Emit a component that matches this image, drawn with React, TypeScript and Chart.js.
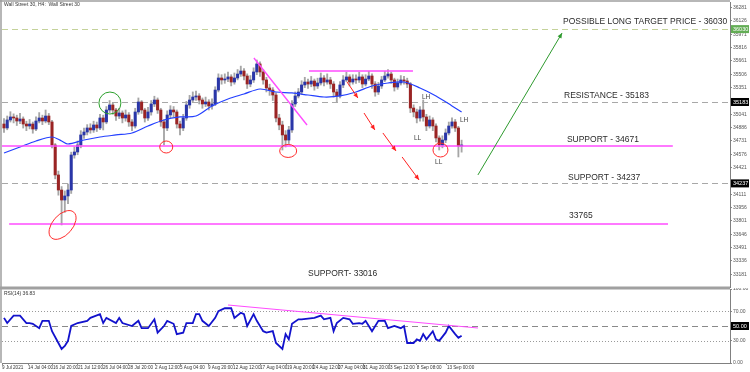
import React, { useEffect, useRef } from "react";
import { Chart, registerables } from "chart.js";
Chart.register(...registerables);

// ---------- data ----------
const FIRST_OPEN = 34927;
const closes = [
  34881, 34974, 35009, 34997, 34962, 34985, 34927, 34904, 34927, 34869,
  34962, 34997, 34962, 35020, 34951, 34683, 34335, 34160, 34044, 34091,
  34160, 34567, 34602, 34683, 34800, 34834, 34881, 34858, 34916, 34881,
  34997, 34951, 35090, 35148, 35090, 35020, 35055, 34997, 35032, 34951,
  34904, 35067, 35183, 35090, 34997, 35067, 35160, 35206, 35090, 34951,
  34881, 35032, 35090, 35067, 34927, 34881, 34997, 35148, 35206, 35241,
  35253, 35206, 35160, 35183, 35137, 35160, 35322, 35462, 35439, 35450,
  35474, 35415, 35462, 35508, 35543, 35485, 35392, 35439, 35532, 35625,
  35532, 35439, 35346, 35322, 35264, 34997, 34916, 34800, 34741, 34858,
  35160, 35253, 35299, 35381, 35415, 35392, 35427, 35369, 35404, 35462,
  35415, 35439, 35392, 35299, 35253, 35381, 35439, 35474, 35415, 35450,
  35439, 35474, 35392, 35450, 35485, 35392, 35299, 35369, 35439, 35485,
  35508, 35439, 35357, 35404, 35439, 35427, 35392, 35113, 35067, 34997,
  35090, 35009, 34904, 34974, 34904, 34765, 34683, 34741, 34823, 34904,
  34951, 34881, 34672, 34683,
];
const highs = [
  34990, 35020, 35070, 35045, 35030, 35050, 35010, 34960, 34980, 34950,
  35010, 35060, 35030, 35090, 35050, 34970, 34700, 34380, 34200, 34150,
  34230, 34600, 34660, 34730, 34850, 34880, 34920, 34930, 34960, 34950,
  35040, 35030, 35130, 35200, 35170, 35110, 35110, 35080, 35090, 35060,
  34980, 35110, 35230, 35200, 35110, 35120, 35200, 35250, 35230, 35110,
  34980, 35080, 35140, 35130, 35090, 34960, 35040, 35190, 35260, 35300,
  35310, 35280, 35230, 35240, 35210, 35220, 35360, 35510, 35500, 35510,
  35530, 35500, 35520, 35560, 35600, 35570, 35510, 35490, 35580, 35671,
  35650, 35560, 35470, 35390, 35350, 35290, 35040, 34960, 34850, 34900,
  35200, 35300, 35340, 35430, 35470, 35450, 35480, 35450, 35460, 35520,
  35490, 35510, 35470, 35420, 35330, 35420, 35490, 35530, 35500, 35500,
  35500, 35530, 35500, 35500, 35540, 35510, 35420, 35410, 35480, 35540,
  35560, 35530, 35460, 35450, 35490, 35480, 35460, 35410, 35150, 35100,
  35130, 35206, 35040, 35020, 35000, 34930, 34790, 34790, 34870, 34950,
  35000, 34980, 34900, 34740,
];
const lows = [
  34830, 34860, 34950, 34940, 34910, 34930, 34880, 34850, 34870, 34820,
  34850, 34940, 34920, 34940, 34920, 34650, 34290, 34100, 33754, 33900,
  34000, 34120, 34530, 34570, 34650, 34760, 34800, 34820, 34830, 34840,
  34860, 34858, 34930, 35060, 35040, 34970, 34990, 34940, 34960, 34900,
  34850, 34880, 35040, 35050, 34950, 34970, 35030, 35130, 35050, 34900,
  34683, 34850, 35000, 35010, 34880, 34800, 34850, 34970, 35110, 35180,
  35200, 35160, 35110, 35130, 35090, 35100, 35140, 35300, 35390, 35400,
  35420, 35370, 35390, 35440, 35480, 35440, 35340, 35360, 35410, 35500,
  35480, 35390, 35300, 35260, 35200, 34950, 34860, 34625, 34660, 34700,
  34830, 35130, 35230, 35270, 35350, 35340, 35360, 35320, 35340, 35380,
  35370, 35390, 35340, 35240, 35183, 35230, 35350, 35420, 35370, 35390,
  35400, 35410, 35350, 35370, 35430, 35340, 35250, 35270, 35340, 35420,
  35460, 35400, 35310, 35330, 35380, 35390, 35350, 35060, 35010, 34940,
  34960, 34960, 34850, 34880, 34850, 34720, 34625, 34650, 34710, 34800,
  34880, 34840, 34544, 34600,
];
const maIdx = [0, 5, 10, 15, 18, 20, 25, 30, 35, 40, 45, 50, 55, 60, 65, 70, 75, 80, 85, 90, 95, 100, 105, 110, 115, 120, 125, 130, 135, 140, 143];
const maVal = [34590, 34660, 34730, 34776, 34730, 34695, 34741, 34776, 34800, 34823, 34904, 34974, 35009, 35020, 35137, 35218, 35276, 35334, 35299, 35288, 35264, 35241, 35253, 35299, 35369, 35404, 35415, 35346, 35253, 35137, 35067];

const rsiIdx = [0, 1, 3, 5, 7, 8, 9, 11, 12, 14, 15, 17, 18, 19, 20, 21, 23, 26, 27, 30, 31, 32, 35, 36, 37, 40, 42, 43, 45, 47, 48, 50, 51, 53, 54, 56, 57, 59, 60, 61, 62, 64, 66, 67, 69, 71, 72, 74, 75, 76, 78, 79, 81, 82, 84, 85, 87, 88, 89, 90, 92, 93, 97, 99, 100, 102, 103, 104, 106, 108, 109, 111, 112, 113, 114, 115, 117, 119, 120, 122, 124, 125, 126, 128, 129, 130, 131, 132, 134, 135, 136, 138, 139, 141, 142, 143];
const rsiVal = [61, 54, 64, 64, 54, 54, 53, 47, 57, 57, 43, 27, 19, 23, 30, 50, 54, 57, 61, 66, 54, 61, 54, 61, 54, 50, 57, 47, 47, 59, 41, 50, 57, 53, 39, 41, 54, 54, 66, 66, 57, 50, 61, 70, 74, 74, 61, 68, 66, 50, 66, 57, 43, 41, 43, 27, 19, 39, 32, 53, 59, 59, 61, 64, 59, 61, 43, 54, 61, 59, 53, 54, 53, 57, 50, 43, 57, 57, 47, 50, 47, 50, 27, 27, 32, 30, 39, 32, 43, 32, 30, 41, 50, 39, 34, 36.83];

const priceTicks = [36281, 36126, 35971, 35816, 35661, 35506, 35351, 35041, 34886, 34731, 34576, 34421, 34111, 33956, 33801, 33646, 33491, 33336, 33181];
const rsiTicks = [100, 70, 30, 0];
const xTickIdx = [-0.6, 7.5, 15.3, 23.1, 30.9, 38.75, 47.2, 55, 63.75, 71.6, 80, 88.4, 96.6, 104.4, 112.2, 120.6, 129, 138.4];
const xTickLabels = ["9 Jul 2021", "14 Jul 04:00", "16 Jul 20:00", "21 Jul 12:00", "26 Jul 04:00", "28 Jul 20:00", "2 Aug 12:00", "5 Aug 04:00", "9 Aug 20:00", "12 Aug 12:00", "17 Aug 04:00", "19 Aug 20:00", "24 Aug 12:00", "27 Aug 04:00", "31 Aug 20:00", "3 Sep 12:00", "8 Sep 08:00", "13 Sep 00:00"];

const TARGET = 36030;
const RESISTANCE = 35183;
const SUPPORT_1 = 34671;
const SUPPORT_2 = 34237;
const LEVEL_33765 = 33765;
const RSI_NOW = 36.83;

// ---------- annotation geometry (data coordinates) ----------
const magentaSegs = [
  [-0.7, SUPPORT_1, 209, SUPPORT_1],
  [1.6, LEVEL_33765, 207.5, LEVEL_33765],
  [95.3, 35543, 127.8, 35543],
  [78.1, 35694, 94.7, 34916],
];
const redArrows = [
  [107.2, 35415, 110.6, 35229],
  [112.5, 35055, 115.9, 34858],
  [118.4, 34823, 122.5, 34614],
  [124.4, 34544, 129.7, 34277],
];
const greenArrow = [148.1, 34335, 174.4, 35985];
const ellipses = [
  { i: 33.1, p: 35171, rx: 11, ry: 11, rot: 0, c: "#2ca02c" },
  { i: 18.3, p: 33754, rx: 17, ry: 10, rot: -0.85, c: "#ff2b2b" },
  { i: 50.7, p: 34660, rx: 6.5, ry: 6, rot: 0, c: "#ff2b2b" },
  { i: 88.8, p: 34614, rx: 8.5, ry: 6.5, rot: 0, c: "#ff2b2b" },
  { i: 136.4, p: 34625, rx: 7.5, ry: 7, rot: 0, c: "#ff2b2b" },
];
const bigTexts = [
  { t: "POSSIBLE LONG TARGET PRICE - 36030", i: 174.7, p: 36113 },
  { t: "RESISTANCE - 35183", i: 175.0, p: 35253 },
  { t: "SUPPORT - 34671", i: 175.9, p: 34741 },
  { t: "SUPPORT - 34237", i: 176.25, p: 34306 },
  { t: "33765", i: 176.6, p: 33858 },
  { t: "SUPPORT- 33016", i: 95.0, p: 33190 },
];
const smallTexts = [
  { t: "LH", i: 130.6, p: 35241 },
  { t: "LH", i: 142.5, p: 34974 },
  { t: "LL", i: 128.1, p: 34765 },
  { t: "LL", i: 134.7, p: 34486 },
];

const X_MIN = -0.625;
const X_MAX = 226.875;
const P_MIN = 33033;
const P_MAX = 36345;
const UP = "#2a36a8";
const DOWN = "#9a2424";
const FONT = "'Liberation Sans', Arial, sans-serif";

function drawArrow(ctx: CanvasRenderingContext2D, x1: number, y1: number, x2: number, y2: number, color: string) {
  ctx.strokeStyle = color;
  ctx.fillStyle = color;
  ctx.lineWidth = 1;
  ctx.setLineDash([]);
  ctx.beginPath();
  ctx.moveTo(x1, y1);
  ctx.lineTo(x2, y2);
  ctx.stroke();
  const a = Math.atan2(y2 - y1, x2 - x1);
  const L = 5, W = 2.2;
  ctx.beginPath();
  ctx.moveTo(x2, y2);
  ctx.lineTo(x2 - L * Math.cos(a) + W * Math.sin(a), y2 - L * Math.sin(a) - W * Math.cos(a));
  ctx.lineTo(x2 - L * Math.cos(a) - W * Math.sin(a), y2 - L * Math.sin(a) + W * Math.cos(a));
  ctx.closePath();
  ctx.fill();
}

function axisBox(ctx: CanvasRenderingContext2D, x: number, y: number, text: string, bg: string, fg: string) {
  ctx.fillStyle = bg;
  ctx.fillRect(x, y - 4, 18, 8);
  ctx.fillStyle = fg;
  ctx.font = `5.5px ${FONT}`;
  ctx.textAlign = "left";
  ctx.textBaseline = "middle";
  ctx.fillText(text, x + 2, y + 0.5);
}

const mainPlugin = {
  id: "mainAnnot",
  beforeDatasetsDraw(chart: any) {
    const { ctx, chartArea: a, scales } = chart;
    const Y = (p: number) => scales.y.getPixelForValue(p);
    ctx.save();
    ctx.lineWidth = 1.2;
    ctx.setLineDash([6, 4]);
    const lv: [number, string][] = [[TARGET, "#c4d29a"], [RESISTANCE, "#a8a8a8"], [SUPPORT_2, "#a8a8a8"]];
    for (const [p, c] of lv) {
      ctx.strokeStyle = c;
      ctx.beginPath();
      ctx.moveTo(a.left, Math.round(Y(p)) + 0.5);
      ctx.lineTo(a.right, Math.round(Y(p)) + 0.5);
      ctx.stroke();
    }
    ctx.restore();
  },
  afterDatasetsDraw(chart: any) {
    const { ctx, chartArea: a, scales } = chart;
    const X = (i: number) => scales.x.getPixelForValue(i);
    const Y = (p: number) => scales.y.getPixelForValue(p);
    ctx.save();
    ctx.beginPath();
    ctx.rect(a.left, a.top, a.right - a.left, a.bottom - a.top);
    ctx.clip();
    ctx.setLineDash([]);
    ctx.strokeStyle = "#ff4cff";
    ctx.lineWidth = 1.4;
    for (const s of magentaSegs) {
      ctx.beginPath();
      ctx.moveTo(X(s[0]), Y(s[1]));
      ctx.lineTo(X(s[2]), Y(s[3]));
      ctx.stroke();
    }
    for (const r of redArrows) drawArrow(ctx, X(r[0]), Y(r[1]), X(r[2]), Y(r[3]), "#ff2020");
    drawArrow(ctx, X(greenArrow[0]), Y(greenArrow[1]), X(greenArrow[2]), Y(greenArrow[3]), "#2e9a2e");
    ctx.lineWidth = 1;
    for (const e of ellipses) {
      ctx.strokeStyle = e.c;
      ctx.beginPath();
      ctx.ellipse(X(e.i), Y(e.p), e.rx, e.ry, e.rot, 0, Math.PI * 2);
      ctx.stroke();
    }
    ctx.fillStyle = "#2b2b2b";
    ctx.textAlign = "left";
    ctx.textBaseline = "middle";
    ctx.font = `8.5px ${FONT}`;
    for (const t of bigTexts) ctx.fillText(t.t, X(t.i), Y(t.p));
    ctx.fillStyle = "#444";
    ctx.font = `6.5px ${FONT}`;
    for (const t of smallTexts) ctx.fillText(t.t, X(t.i), Y(t.p));
    ctx.fillStyle = "#333";
    ctx.font = `5px ${FONT}`;
    ctx.fillText("Wall Street 30, H4:  Wall Street 30", a.left + 2, a.top + 3);
    ctx.restore();
  },
  afterDraw(chart: any) {
    const { ctx, chartArea: a, scales } = chart;
    const Y = (p: number) => scales.y.getPixelForValue(p);
    ctx.save();
    ctx.strokeStyle = "#a0a0a0";
    ctx.lineWidth = 1.5;
    ctx.beginPath();
    ctx.moveTo(1, 0);
    ctx.lineTo(1, chart.height);
    ctx.moveTo(0, 1);
    ctx.lineTo(a.right, 1);
    ctx.moveTo(0, chart.height - 0.75);
    ctx.lineTo(a.right, chart.height - 0.75);
    ctx.stroke();
    axisBox(ctx, a.right + 1, Y(TARGET), String(TARGET), "#63ad55", "#ffffff");
    axisBox(ctx, a.right + 1, Y(RESISTANCE), String(RESISTANCE), "#000000", "#ffffff");
    axisBox(ctx, a.right + 1, Y(SUPPORT_2), String(SUPPORT_2), "#000000", "#ffffff");
    ctx.restore();
  },
};

const rsiPlugin = {
  id: "rsiAnnot",
  beforeDatasetsDraw(chart: any) {
    const { ctx, chartArea: a, scales } = chart;
    const Y = (v: number) => scales.y.getPixelForValue(v);
    ctx.save();
    ctx.lineWidth = 1;
    ctx.strokeStyle = "#9a9a9a";
    ctx.setLineDash([1, 2]);
    for (const v of [70, 30]) {
      ctx.beginPath();
      ctx.moveTo(a.left, Math.round(Y(v)) + 0.5);
      ctx.lineTo(a.right, Math.round(Y(v)) + 0.5);
      ctx.stroke();
    }
    ctx.setLineDash([6, 4]);
    ctx.strokeStyle = "#8a8a8a";
    ctx.lineWidth = 1.2;
    ctx.beginPath();
    ctx.moveTo(a.left, Math.round(Y(50)) + 0.5);
    ctx.lineTo(a.right, Math.round(Y(50)) + 0.5);
    ctx.stroke();
    ctx.restore();
  },
  afterDatasetsDraw(chart: any) {
    const { ctx, chartArea: a, scales } = chart;
    const X = (i: number) => scales.x.getPixelForValue(i);
    const Y = (v: number) => scales.y.getPixelForValue(v);
    ctx.save();
    ctx.strokeStyle = "#ff4cff";
    ctx.lineWidth = 1.2;
    ctx.beginPath();
    ctx.moveTo(X(70), Y(78.4));
    ctx.lineTo(X(148.1), Y(47.3));
    ctx.stroke();
    ctx.fillStyle = "#333";
    ctx.font = `5px ${FONT}`;
    ctx.textAlign = "left";
    ctx.textBaseline = "middle";
    ctx.fillText(`RSI(14) ${RSI_NOW.toFixed(2)}`, a.left + 2, a.top + 5);
    ctx.restore();
  },
  afterDraw(chart: any) {
    const { ctx, chartArea: a, scales } = chart;
    ctx.save();
    ctx.strokeStyle = "#a0a0a0";
    ctx.lineWidth = 1.5;
    ctx.beginPath();
    ctx.moveTo(1, 0);
    ctx.lineTo(1, a.bottom);
    ctx.moveTo(0, 0.75);
    ctx.lineTo(a.right, 0.75);
    ctx.stroke();
    axisBox(ctx, a.right + 1, scales.y.getPixelForValue(50), "50.00", "#000000", "#ffffff");
    ctx.restore();
  },
};

export default function App() {
  const mainRef = useRef<HTMLCanvasElement>(null);
  const rsiRef = useRef<HTMLCanvasElement>(null);

  useEffect(() => {
    document.body.style.margin = "0";
    const opens = closes.map((c, i) => (i === 0 ? FIRST_OPEN : closes[i - 1]));
    const wickData = closes.map((_, i) => ({ x: i, y: [lows[i], highs[i]] }));
    const bodyData = closes.map((c, i) => ({ x: i, y: [opens[i], c] }));
    const bodyColors = closes.map((c, i) => (c >= opens[i] ? UP : DOWN));
    const maData = maIdx.map((x, k) => ({ x, y: maVal[k] }));
    const rsiData = rsiIdx.map((x, k) => ({ x, y: rsiVal[k] }));

    const main = new Chart(mainRef.current as HTMLCanvasElement, {
      type: "bar",
      data: {
        datasets: [
          { type: "bar", data: wickData as any, backgroundColor: "#a6a6a6", barThickness: 1.2, grouped: false, order: 3 } as any,
          { type: "bar", data: bodyData as any, backgroundColor: bodyColors, barThickness: 2.4, grouped: false, minBarLength: 1, order: 2 } as any,
          { type: "line", data: maData as any, borderColor: "#2440ff", borderWidth: 1.2, pointRadius: 0, tension: 0.3, order: 1 } as any,
        ],
      },
      options: {
        animation: false,
        responsive: false,
        devicePixelRatio: 1,
        events: [],
        layout: { padding: { left: 2, top: 2, right: 0, bottom: 1 } },
        plugins: { legend: { display: false }, tooltip: { enabled: false } },
        scales: {
          x: { type: "linear", min: X_MIN, max: X_MAX, display: false, offset: false },
          y: {
            type: "linear",
            position: "right",
            min: P_MIN,
            max: P_MAX,
            afterBuildTicks: (s: any) => { s.ticks = priceTicks.map((v) => ({ value: v })); },
            afterFit: (s: any) => { s.width = 20; s.paddingTop = 0; s.paddingBottom = 0; },
            grid: { drawOnChartArea: false, drawTicks: true, tickLength: 2, color: "#888" },
            border: { display: true, color: "#808080", width: 1 },
            ticks: { font: { size: 5, family: FONT }, color: "#555", padding: 1, autoSkip: false, callback: (v: any) => String(v) },
          },
        },
      } as any,
      plugins: [mainPlugin],
    });

    const rsi = new Chart(rsiRef.current as HTMLCanvasElement, {
      type: "line",
      data: {
        datasets: [
          { data: rsiData as any, borderColor: "#1212cc", borderWidth: 1.8, pointRadius: 0, tension: 0 } as any,
        ],
      },
      options: {
        animation: false,
        responsive: false,
        devicePixelRatio: 1,
        events: [],
        layout: { padding: { left: 2, top: 1, right: 0, bottom: 0 } },
        plugins: { legend: { display: false }, tooltip: { enabled: false } },
        scales: {
          x: {
            type: "linear",
            min: X_MIN,
            max: X_MAX,
            offset: false,
            afterBuildTicks: (s: any) => { s.ticks = xTickIdx.map((v) => ({ value: v })); },
            afterFit: (s: any) => { s.height = 9; s.paddingLeft = 0; s.paddingRight = 0; },
            grid: { drawOnChartArea: false, drawTicks: true, tickLength: 2, color: "#888" },
            border: { display: true, color: "#808080" },
            ticks: {
              font: { size: 4.6, family: FONT },
              color: "#333",
              padding: 0,
              align: "start",
              autoSkip: false,
              maxRotation: 0,
              minRotation: 0,
              callback: (_v: any, i: number) => xTickLabels[i],
            },
          },
          y: {
            type: "linear",
            position: "right",
            min: 0,
            max: 100,
            afterBuildTicks: (s: any) => { s.ticks = rsiTicks.map((v) => ({ value: v })); },
            afterFit: (s: any) => { s.width = 20; s.paddingTop = 0; s.paddingBottom = 0; },
            grid: { drawOnChartArea: false, drawTicks: true, tickLength: 2, color: "#888" },
            border: { display: true, color: "#808080" },
            ticks: { font: { size: 5, family: FONT }, color: "#555", padding: 1, autoSkip: false, callback: (v: any) => Number(v).toFixed(2) },
          },
        },
      } as any,
      plugins: [rsiPlugin],
    });

    return () => {
      main.destroy();
      rsi.destroy();
    };
  }, []);

  return (
    <div style={{ position: "fixed", left: 0, top: 0, width: 750, height: 372, background: "#ffffff", overflow: "hidden" }}>
      <canvas ref={mainRef} width={750} height={288} style={{ position: "absolute", left: 0, top: 0, width: 750, height: 288 }} />
      <canvas ref={rsiRef} width={750} height={84} style={{ position: "absolute", left: 0, top: 288, width: 750, height: 84 }} />
    </div>
  );
}
